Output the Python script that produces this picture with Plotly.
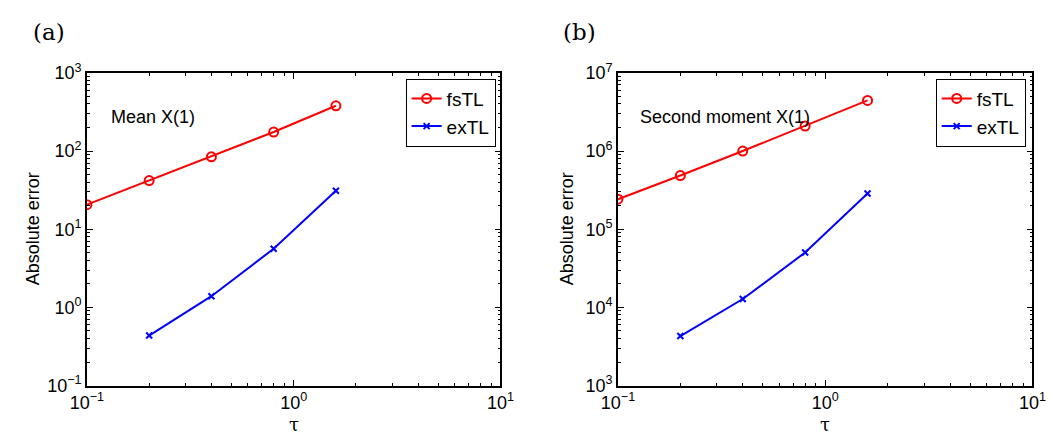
import plotly.graph_objects as go

tau = [0.1, 0.2, 0.4, 0.8, 1.6]
tau_ex = [0.2, 0.4, 0.8, 1.6]

mean_fsTL = [20.6, 41.9, 84.4, 175, 379]
mean_exTL = [0.436, 1.39, 5.63, 31.1]

second_fsTL = [2.42e5, 4.86e5, 1.0e6, 2.09e6, 4.44e6]
second_exTL = [4.3e3, 1.28e4, 5.04e4, 2.86e5]

x_exps = [-1, 0, 1]
y1_exps = [-1, 0, 1, 2, 3]
y2_exps = [3, 4, 5, 6, 7]

W, H = 1063, 445
FONT = "Liberation Sans, Arial, sans-serif"

def px_x(v):
    return v / W

def px_y(v):
    return 1 - v / H

def pow_ticks(exps):
    vals = [10.0 ** e for e in exps]
    txt = ["10<sup>%s</sup>" % (str(e).replace("-", "\u2212")) for e in exps]
    return vals, txt

def minor_vals(exps):
    out = []
    for e in exps[:-1]:
        for m in range(2, 10):
            out.append(m * 10.0 ** e)
    return out

red = "#ff0000"
blue = "#0000ff"

fig = go.Figure()

def add_pair(xf, yf, xe, ye, xa, ya, lg):
    fig.add_trace(go.Scatter(x=xf, y=yf, mode="lines+markers", name="fsTL",
                             line=dict(color=red, width=2),
                             marker=dict(symbol="circle-open", size=9, color=red,
                                         line=dict(width=2, color=red)),
                             xaxis=xa, yaxis=ya, legend=lg))
    fig.add_trace(go.Scatter(x=xe, y=ye, mode="lines+markers", name="exTL",
                             line=dict(color=blue, width=2),
                             marker=dict(symbol="x-thin", size=6, color=blue,
                                         line=dict(width=2, color=blue)),
                             xaxis=xa, yaxis=ya, legend=lg))

add_pair(tau, mean_fsTL, tau_ex, mean_exTL, "x", "y", "legend")
add_pair(tau, second_fsTL, tau_ex, second_exTL, "x2", "y2", "legend2")

def axis(exps, dom, anchor):
    vals, txt = pow_ticks(exps)
    return dict(type="log", range=[exps[0], exps[-1]], domain=dom, anchor=anchor,
                tickmode="array", tickvals=vals, ticktext=txt,
                showgrid=False, zeroline=False,
                showline=True, linecolor="black", linewidth=1.5, mirror="allticks",
                ticks="inside", ticklen=6, tickwidth=1, tickcolor="black",
                minor=dict(tickmode="array", tickvals=minor_vals(exps), ticks="inside",
                           ticklen=3, tickwidth=1, tickcolor="black", showgrid=False),
                tickfont=dict(family=FONT, size=18, color="black"))

ydom = [px_y(393), px_y(64)]
fig.update_layout(
    width=W, height=H,
    margin=dict(l=0, r=0, t=0, b=0),
    paper_bgcolor="white", plot_bgcolor="white",
    font=dict(family=FONT, color="black"),
    xaxis=axis(x_exps, [px_x(72), px_x(498)], "y"),
    yaxis=axis(y1_exps, ydom, "x"),
    xaxis2=axis(x_exps, [px_x(619), px_x(1046)], "y2"),
    yaxis2=axis(y2_exps, ydom, "x2"),
    legend=dict(x=px_x(493), y=px_y(70), xanchor="right", yanchor="top",
                bgcolor="white", bordercolor="black", borderwidth=1,
                font=dict(family=FONT, size=19), itemwidth=30, tracegroupgap=0),
    legend2=dict(x=px_x(1039), y=px_y(70), xanchor="right", yanchor="top",
                 bgcolor="white", bordercolor="black", borderwidth=1,
                 font=dict(family=FONT, size=19), itemwidth=30, tracegroupgap=0),
    showlegend=True,
)

def ann(text, x, y, fam, size, xanchor="left", angle=0):
    fig.add_annotation(text=text, x=px_x(x), y=px_y(y), xref="paper", yref="paper",
                       xanchor=xanchor, yanchor="middle", showarrow=False, textangle=angle,
                       font=dict(family=fam, size=size, color="black"))

ann("Mean X(1)", 95, 110, FONT, 18)
ann("Second moment X(1)", 640, 110, FONT, 18)
ann("(a)", 14, 21, "DejaVu Serif", 23)
ann("(b)", 560, 21, "DejaVu Serif", 23)
ann("τ", 285, 434, "DejaVu Serif", 18, xanchor="center")
ann("τ", 832, 434, "DejaVu Serif", 18, xanchor="center")
ann("Absolute error", 16, 228, FONT, 18, xanchor="center", angle=-90)
ann("Absolute error", 566, 228, FONT, 18, xanchor="center", angle=-90)

fig.write_html("out.html")
